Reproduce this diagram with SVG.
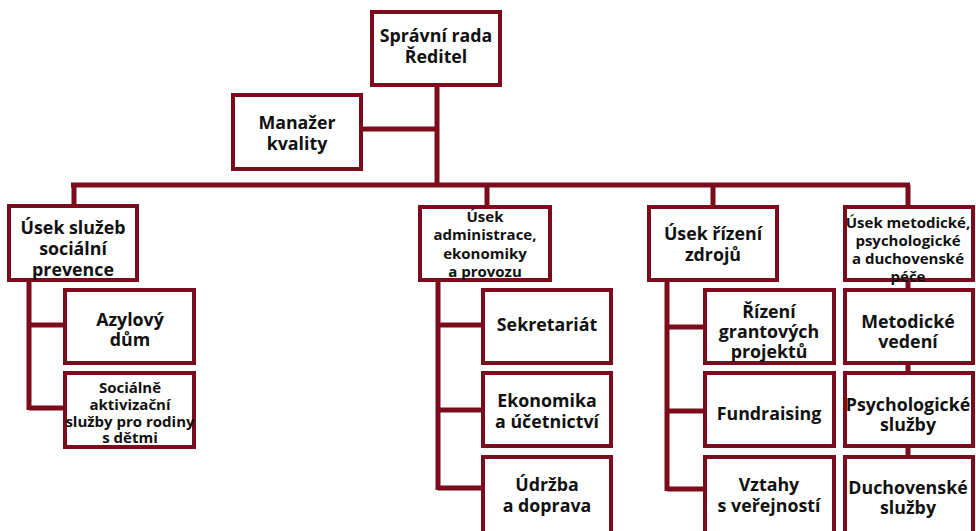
<svg xmlns="http://www.w3.org/2000/svg" width="976" height="531" viewBox="0 0 976 531">
<style>
.b{fill:#fff;stroke:#7b0c1b;stroke-width:4}
.c{fill:none;stroke:#7b0c1b;stroke-width:5;stroke-linecap:butt}
text{font-family:"Open Sans","Noto Sans",sans-serif;font-weight:bold;fill:#111;text-anchor:middle}
.l{font-size:17.8px}
.s{font-size:15px}
</style>
<rect width="976" height="531" fill="#fff"/>
<g id="connectors">
<path class="c" d="M437 87V185M363 129H437M71 185H910M74 185V206M487 185V206M713 185V206M908 185V206"/>
<path class="c" d="M29 282V410M29 325H65M29 408H65"/>
<path class="c" d="M438 282V490M438 325H483M438 410H483M438 488H483"/>
<path class="c" d="M667 281V491M667 327H705M667 411H705M667 489H705"/>
<path class="c" d="M908 281V457"/>
</g>
<g id="n-top"><rect class="b" x="372" y="12" width="128" height="73"/><text class="l" x="436" y="42">Správní rada</text><text class="l" x="436" y="63">Ředitel</text></g>
<g id="n-mgr"><rect class="b" x="233" y="95" width="128" height="74"/><text class="l" x="297" y="129">Manažer</text><text class="l" x="297" y="150">kvality</text></g>
<g id="n-l"><rect class="b" x="9" y="206" width="128" height="74"/><text class="l" x="73" y="234">Úsek služeb</text><text class="l" x="73" y="255">sociální</text><text class="l" x="73" y="276">prevence</text></g>
<g id="n-l1"><rect class="b" x="65" y="290" width="129" height="73"/><text class="l" x="130" y="326">Azylový</text><text class="l" x="130" y="346">dům</text></g>
<g id="n-l2"><rect class="b" x="65" y="373" width="129" height="74"/><text class="s" x="130" y="393">Sociálně</text><text class="s" x="130" y="410">aktivizační</text><text class="s" x="130" y="427">služby pro rodiny</text><text class="s" x="130" y="443">s dětmi</text></g>
<g id="n-m"><rect class="b" x="420" y="207" width="130" height="73"/><text class="s" x="485" y="222">Úsek</text><text class="s" x="485" y="240">administrace,</text><text class="s" x="485" y="259">ekonomiky</text><text class="s" x="485" y="277">a provozu</text></g>
<g id="n-m1"><rect class="b" x="483" y="290" width="128" height="73"/><text class="l" x="547" y="331">Sekretariát</text></g>
<g id="n-m2"><rect class="b" x="483" y="373" width="128" height="73"/><text class="l" x="547" y="407">Ekonomika</text><text class="l" x="547" y="428">a účetnictví</text></g>
<g id="n-m3"><rect class="b" x="483" y="457" width="128" height="80"/><text class="l" x="547" y="491">Údržba</text><text class="l" x="547" y="512">a doprava</text></g>
<g id="n-r"><rect class="b" x="649" y="207" width="128" height="73"/><text class="l" x="713" y="240">Úsek řízení</text><text class="l" x="713" y="261">zdrojů</text></g>
<g id="n-r1"><rect class="b" x="705" y="290" width="129" height="73"/><text class="l" x="769" y="318">Řízení</text><text class="l" x="769" y="338">grantových</text><text class="l" x="769" y="358">projektů</text></g>
<g id="n-r2"><rect class="b" x="705" y="373" width="129" height="73"/><text class="l" x="769" y="420">Fundraising</text></g>
<g id="n-r3"><rect class="b" x="705" y="457" width="129" height="80"/><text class="l" x="769" y="491">Vztahy</text><text class="l" x="769" y="512">s veřejností</text></g>
<g id="n-f"><rect class="b" x="845" y="207" width="128" height="73"/><text class="s" x="908" y="228">Úsek metodické,</text><text class="s" x="908" y="246">psychologické</text><text class="s" x="908" y="264">a duchovenské</text><text class="s" x="908" y="282">péče</text></g>
<g id="n-f1"><rect class="b" x="845" y="290" width="128" height="73"/><text class="l" x="908" y="328">Metodické</text><text class="l" x="908" y="348">vedení</text></g>
<g id="n-f2"><rect class="b" x="845" y="373" width="128" height="73"/><text class="l" x="908" y="411">Psychologické</text><text class="l" x="908" y="431">služby</text></g>
<g id="n-f3"><rect class="b" x="845" y="457" width="128" height="80"/><text class="l" x="908" y="494">Duchovenské</text><text class="l" x="908" y="514">služby</text></g>
</svg>
